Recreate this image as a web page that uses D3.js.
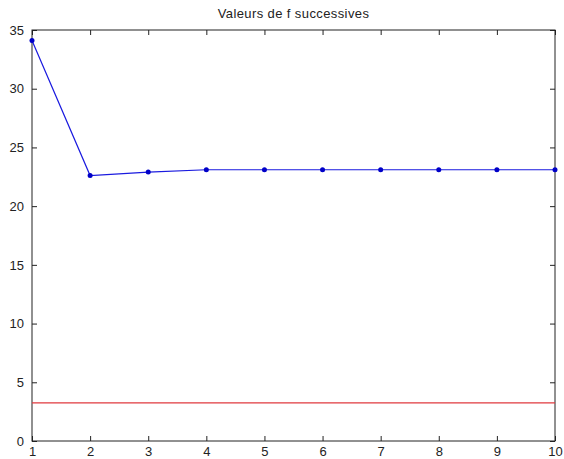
<!DOCTYPE html>
<html>
<head>
<meta charset="utf-8">
<script src="https://cdn.jsdelivr.net/npm/d3@7"></script>
<style>
  body { margin: 0; background: #fff; }
  text { font-family: "Liberation Sans", Arial, sans-serif; }
</style>
</head>
<body>
<div id="chart"></div>
<script>
var iterations = [1, 2, 3, 4, 5, 6, 7, 8, 9, 10];
var fValues = [34.1, 22.6, 22.9, 23.1, 23.1, 23.1, 23.1, 23.1, 23.1, 23.1];
var refValue = 3.24;
var xTicks = [1, 2, 3, 4, 5, 6, 7, 8, 9, 10];
var yTicks = [0, 5, 10, 15, 20, 25, 30, 35];
var titleText = "Valeurs de f successives";

var svgWidth = 564;
var svgHeight = 459;

var margin = { top: 30, right: 9, bottom: 18, left: 32 };

var width = svgWidth - margin.left - margin.right;
var height = svgHeight - margin.top - margin.bottom;

var svg = d3.select("#chart")
  .append("svg")
  .attr("width", svgWidth)
  .attr("height", svgHeight);

var chartGroup = svg.append("g")
  .attr("transform", `translate(${margin.left}, ${margin.top})`);

var xScale = d3.scaleLinear().domain([1, 10]).range([0, width]);
var yScale = d3.scaleLinear().domain([0, 35]).range([height, 0]);

// axes, MATLAB style: ticks point inward, box on all four sides
var tick = 5;
function styleAxis(g) {
  g.select(".domain").remove();
  g.selectAll("line").attr("stroke", "#222");
  g.selectAll("text").attr("font-size", "13px").attr("fill", "#222");
}

chartGroup.append("g")
  .attr("transform", `translate(0, ${height})`)
  .call(d3.axisBottom(xScale).tickValues(xTicks).tickSizeInner(-tick).tickPadding(6).tickFormat(d3.format("d")))
  .call(styleAxis);

chartGroup.append("g")
  .call(d3.axisTop(xScale).tickValues(xTicks).tickSizeInner(-tick).tickFormat(""))
  .call(styleAxis);

chartGroup.append("g")
  .call(d3.axisLeft(yScale).tickValues(yTicks).tickSizeInner(-tick).tickPadding(8).tickFormat(d3.format("d")))
  .call(styleAxis);

chartGroup.append("g")
  .attr("transform", `translate(${width}, 0)`)
  .call(d3.axisRight(yScale).tickValues(yTicks).tickSizeInner(-tick).tickFormat(""))
  .call(styleAxis);

chartGroup.append("rect")
  .attr("x", 0)
  .attr("y", 0)
  .attr("width", width)
  .attr("height", height)
  .attr("fill", "none")
  .attr("stroke", "#222")
  .attr("stroke-width", 1);

// red reference line
chartGroup.append("line")
  .attr("x1", xScale(1))
  .attr("x2", xScale(10))
  .attr("y1", yScale(refValue))
  .attr("y2", yScale(refValue))
  .attr("stroke", "#e0393e")
  .attr("stroke-width", 1.2);

// blue series
var pts = iterations.map((d, i) => ({ x: d, y: fValues[i] }));

chartGroup.append("path")
  .datum(pts)
  .attr("fill", "none")
  .attr("stroke", "#1a1adf")
  .attr("stroke-width", 1.2)
  .attr("d", d3.line().x(d => xScale(d.x)).y(d => yScale(d.y)));

chartGroup.selectAll("circle")
  .data(pts)
  .enter()
  .append("circle")
  .attr("cx", d => xScale(d.x))
  .attr("cy", d => yScale(d.y))
  .attr("r", 2.5)
  .attr("fill", "#0000c8");

svg.append("text")
  .attr("x", margin.left + width / 2)
  .attr("y", 18)
  .attr("text-anchor", "middle")
  .attr("font-size", "13px")
  .attr("letter-spacing", "0.4px")
  .attr("fill", "#222")
  .text(titleText);
</script>
</body>
</html>
